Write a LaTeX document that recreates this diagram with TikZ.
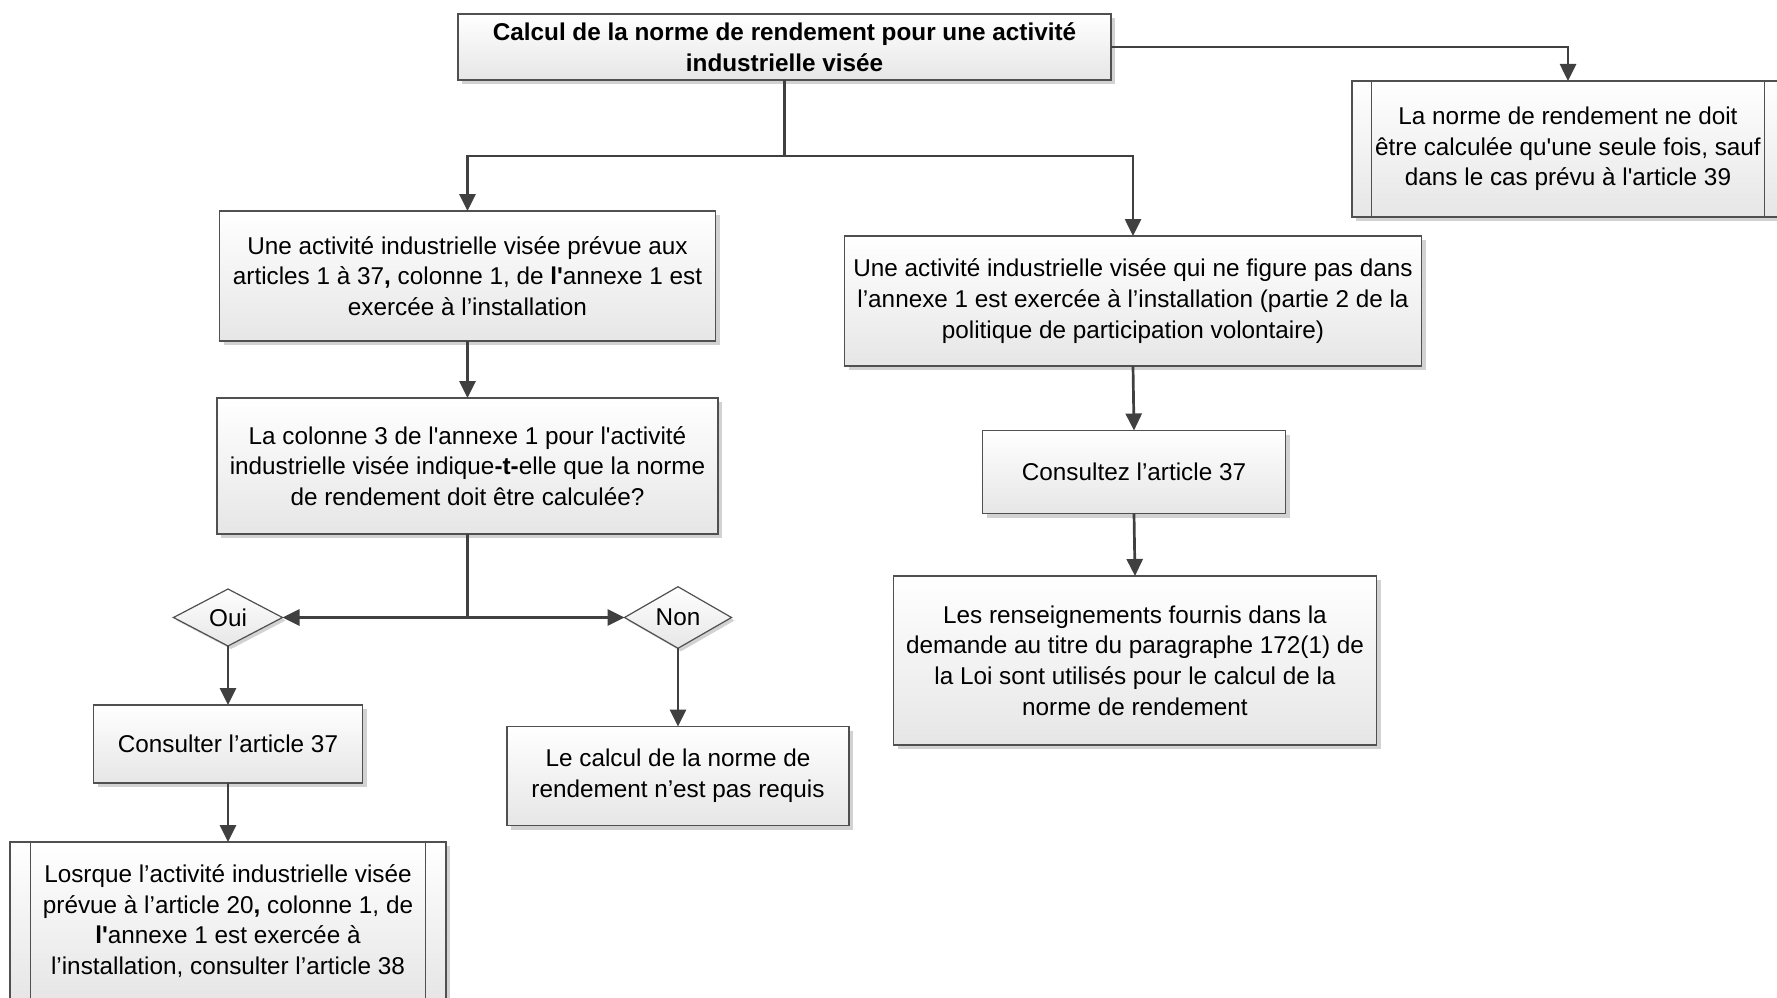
\documentclass[tikz,border=0pt]{standalone}
\usepackage{fontspec}
\setmainfont{Liberation Sans}[Ligatures=TeXOff]
\usetikzlibrary{shapes.geometric,shadows,calc,arrows.meta}
\definecolor{bordc}{HTML}{505050}
\definecolor{linec}{HTML}{404040}
\definecolor{boxbot}{HTML}{E6E6E6}
\definecolor{shadc}{HTML}{D2D2D2}
\begin{document}
\begin{tikzpicture}[x=1pt,y=-1pt,
  every node/.style={font=\fontsize{24.3}{30.6}\selectfont, text=black, align=center, inner sep=0pt, outer sep=0pt},
  sz/.style 2 args={minimum width=#1pt, minimum height=#2pt},
  box/.style={rectangle, draw=bordc, line width=1.5pt, top color=white, bottom color=boxbot,
    drop shadow={shadow xshift=4pt, shadow yshift=-4pt, fill=shadc, opacity=1}},
  dec/.style={diamond, draw=bordc, line width=1.2pt, top color=white, bottom color=boxbot,
    drop shadow={shadow xshift=3pt, shadow yshift=-3pt, fill=shadc, opacity=1}},
  plain/.style={draw=linec, line width=2.7pt},
  conn/.style={plain, -{Triangle[length=17pt,width=16pt]}},
  inner/.style={draw=bordc, line width=1.5pt}
]
\useasboundingbox (0,0) rectangle (1777,998);
\clip (0,0) rectangle (1777,998);
\fill[white] (0,0) rectangle (1777,998);

% nodes
\node[box, sz={653}{66}, font=\fontsize{24.3}{30.6}\selectfont\bfseries] (top) at (784.5,47)
  {Calcul de la norme de rendement pour une activité\\industrielle visée};
\node[box, sz={432}{136}] (rbox) at (1568,149)
  {La norme de rendement ne doit\\être calculée qu'une seule fois, sauf\\dans le cas prévu à l'article 39};
\node[box, sz={496}{130}] (boxA) at (467.5,276)
  {Une activité industrielle visée prévue aux\\articles 1 à 37\textbf{,} colonne 1, de \textbf{l'}annexe 1 est\\exercée à l’installation};
\node[box, sz={501}{136}] (boxB) at (467.5,466)
  {La colonne 3 de l'annexe 1 pour l'activité\\industrielle visée indique\textbf{-t-}elle que la norme\\de rendement doit être calculée?};
\node[dec, sz={109}{57}] (oui) at (228,617.5) {Oui};
\node[dec, sz={107}{56}] (non) at (678,617.5) {Non};
\node[box, sz={269}{78}] (cons1) at (228,744) {Consulter l’article 37};
\node[box, sz={436}{158}] (los) at (228,921)
  {Losrque l’activité industrielle visée\\prévue à l’article 20\textbf{,} colonne 1, de\\\textbf{l'}annexe 1 est exercée à\\l’installation, consulter l’article 38};
\node[box, sz={342}{99}] (calc) at (678,776)
  {Le calcul de la norme de\\rendement n’est pas requis};
\node[box, sz={577}{130}] (r1) at (1133,301)
  {Une activité industrielle visée qui ne figure pas dans\\l’annexe 1 est exercée à l’installation (partie 2 de la\\politique de participation volontaire)};
\node[box, sz={303}{83}] (cons2) at (1134,472) {Consultez l’article 37};
\node[box, sz={483}{169}] (rens) at (1135,660.5)
  {Les renseignements fournis dans la\\demande au titre du paragraphe 172(1) de\\la Loi sont utilisés pour le calcul de la\\norme de rendement};

% predefined-process side bars
\draw[inner] ($(rbox.north west)+(19.5,0)$) -- ($(rbox.south west)+(19.5,0)$);
\draw[inner] ($(rbox.north east)+(-19.5,0)$) -- ($(rbox.south east)+(-19.5,0)$);
\draw[inner] ($(los.north west)+(20.5,0)$) -- ($(los.south west)+(20.5,0)$);
\draw[inner] ($(los.north east)+(-20.5,0)$) -- ($(los.south east)+(-20.5,0)$);

% connectors
\coordinate (j1) at (784.5,156);
\coordinate (j2) at (467.5,617.5);
\draw[conn] (top.east) -| (rbox.north);
\draw[plain] (top.south) -- (j1);
\draw[conn] (j1) -| (boxA.north);
\draw[conn] (j1) -| (r1.north);
\draw[conn] (boxA.south) -- (boxB.north);
\draw[plain] (boxB.south) -- (j2);
\draw[conn] (j2) -- (oui.east);
\draw[conn] (j2) -- (non.west);
\draw[conn] (oui.south) -- (cons1.north);
\draw[conn] (cons1.south) -- (los.north);
\draw[conn] (non.south) -- (calc.north);
\draw[conn] (r1.south) -- (cons2.north);
\draw[conn] (cons2.south) -- (rens.north);
\end{tikzpicture}
\end{document}
